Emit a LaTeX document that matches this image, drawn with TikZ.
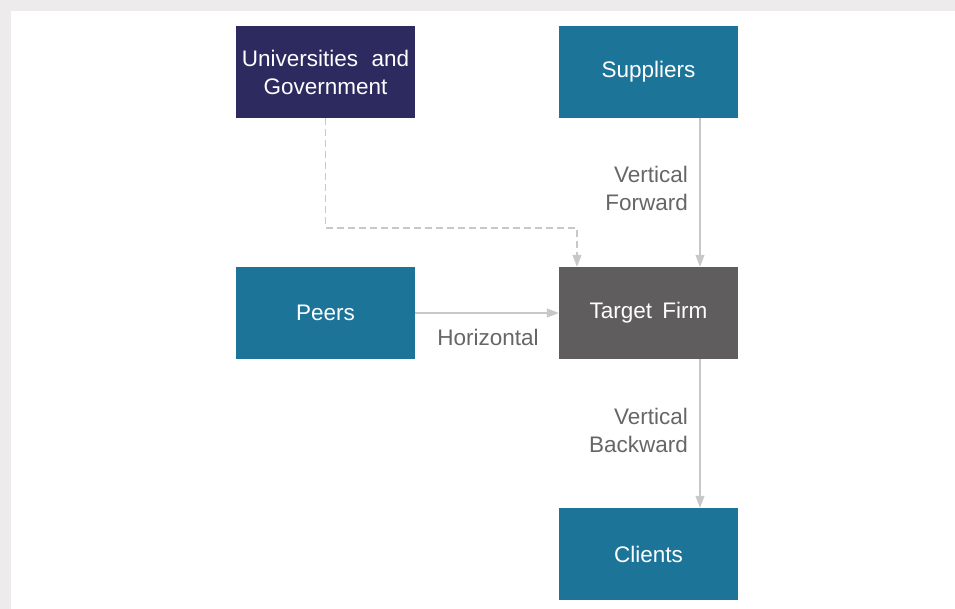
\documentclass[tikz,border=0pt]{standalone}
\usepackage{fontspec}
\setmainfont{Liberation Sans}
\usetikzlibrary{arrows.meta}
\definecolor{bgGray}{HTML}{EDEBEB}
\definecolor{navyBox}{HTML}{2D2A5F}
\definecolor{tealBox}{HTML}{1C7599}
\definecolor{firmBox}{HTML}{5F5D5E}
\definecolor{lineGray}{HTML}{C8C8C8}
\definecolor{labelGray}{HTML}{666666}
\tikzset{
  box/.style={rectangle, minimum width=179pt, minimum height=92pt, inner sep=0pt,
    text=white, font=\fontsize{22.5}{28}\selectfont, align=center},
  conn/.style={draw=lineGray, line width=1.1pt,
    -{Triangle[length=12pt,width=9pt,fill=lineGray]}},
  lbl/.style={text=labelGray, font=\fontsize{22.5}{28}\selectfont, inner sep=0pt}
}
\begin{document}
\begin{tikzpicture}[x=1pt,y=-1pt]
\useasboundingbox (0,0) rectangle (955,609);
\fill[bgGray] (0,0) rectangle (955,609);
\fill[white] (11,11) rectangle (955,609);
\node[box, fill=navyBox] (univ) at (325.5,72) {Universities\hspace{0.6em}and\\Government};
\node[box, fill=tealBox] (supp) at (648.5,72) {Suppliers};
\node[box, fill=tealBox] (peers) at (325.5,313) {Peers};
\node[box, fill=firmBox] (firm) at (648.5,313) {Target\hspace{0.45em}Firm};
\node[box, fill=tealBox] (clients) at (648.5,554) {Clients};
\coordinate (vx) at (700,0);
\coordinate (bend) at (577,228);
\draw[conn] (supp.south -| vx) -- (firm.north -| vx);
\draw[conn] (firm.south -| vx) -- (clients.north -| vx);
\draw[conn] (peers.east) -- (firm.west);
\draw[conn, dash pattern=on 7pt off 4pt] (univ.south) |- (bend) -- (firm.north -| bend);
\node[lbl, anchor=east, align=right] (vf) at (688,188) {Vertical\\Forward};
\node[lbl] (hz) at (488,337) {Horizontal};
\node[lbl, anchor=east, align=right] (vb) at (688,430) {Vertical\\Backward};
\end{tikzpicture}
\end{document}
